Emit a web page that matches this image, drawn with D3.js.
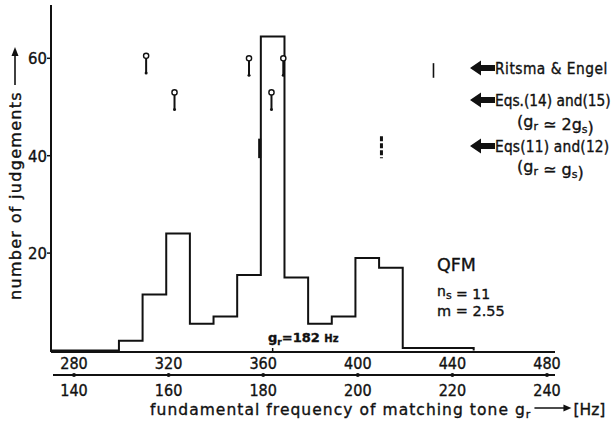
<!DOCTYPE html>
<html><head><meta charset="utf-8">
<script src="https://cdn.jsdelivr.net/npm/d3@7"></script>
<style>
body{margin:0;background:#fff}
svg{display:block}
text{font-family:"DejaVu Sans",sans-serif;fill:#111;stroke:#111;stroke-width:0.35px}
text.c{font-family:"DejaVu Sans Condensed","DejaVu Sans",sans-serif}
</style></head><body>
<svg id="c" width="614" height="423"></svg>
<script>
// ---- data ----
const binEdges = [299,309,319,329,339,349,359,369,379,389,399,409,419,449]; // upper scale (Hz)
const binCounts = [2,11.5,24,5.5,7,15.5,64.5,15,5.5,7,19,17,0.5];
const yTicks = [20,40,60];
const xTopTicks = [280,320,360,400,440,480];
const xBottomTicks = [140,160,180,200,220,240];
const circleMarkerX = [310.5,322.5,354,363.5,368.5];
const circleMarkerTop = [60.5,53,60,53,60];
const circleMarkerBottom = [57,49.5,56.5,49.5,56.5];
const barMarkerX = [358.5,410,432];
const barMarkerTop = [43.5,44,59];
const barMarkerBottom = [39.5,39.5,56];
const grValue = 182;
const legendLabels = ["Ritsma & Engel","Eqs.(14) and(15)","Eqs(11) and(12)"];

// ---- scales ----
const svg = d3.select("#c");
const xTop = d3.scaleLinear().domain([280,480]).range([74,547]);
const xBot = d3.scaleLinear().domain([140,240]).range([74,547]);
const y = d3.scaleLinear().domain([0,60]).range([350.5,58.3]);
const axisX0 = 51, axisX1 = 555;
const ink = "#111";

function arrowRight(x1,x2,yy){
  svg.append("line").attr("x1",x1).attr("x2",x2-5).attr("y1",yy).attr("y2",yy).attr("stroke",ink).attr("stroke-width",1.6);
  svg.append("path").attr("d",`M${x2},${yy} L${x2-8},${yy-3.5} L${x2-8},${yy+3.5} Z`).attr("fill",ink);
}

// y axis
svg.append("line").attr("x1",axisX0).attr("x2",axisX0).attr("y1",5).attr("y2",y(0)+1.5)
  .attr("stroke",ink).attr("stroke-width",2);
const yAx = svg.append("g");
yTicks.forEach(t=>{
  yAx.append("line").attr("x1",axisX0-4).attr("x2",axisX0).attr("y1",y(t)).attr("y2",y(t)).attr("stroke",ink).attr("stroke-width",1.5);
  yAx.append("text").attr("class","c").attr("x",axisX0-4).attr("y",y(t)).attr("dy","0.36em").attr("text-anchor","end")
    .attr("font-size",16.5).text(t);
});

// histogram
let p = d3.path();
p.moveTo(axisX0, y(0));
binEdges.forEach((e,i)=>{
  p.lineTo(xTop(e), i===0 ? y(0) : y(binCounts[i-1]));
  p.lineTo(xTop(e), i<binCounts.length ? y(binCounts[i]) : y(0));
});
svg.append("path").attr("d",p.toString()).attr("fill","none").attr("stroke",ink).attr("stroke-width",2);

// baseline axis (upper scale)
const base = y(0)+1.5;
svg.append("line").attr("x1",axisX0).attr("x2",axisX1).attr("y1",base).attr("y2",base).attr("stroke",ink).attr("stroke-width",1.8);
svg.append("line").attr("x1",xBot(grValue)).attr("x2",xBot(grValue)).attr("y1",base).attr("y2",base-4).attr("stroke",ink).attr("stroke-width",1.5);
xTopTicks.forEach(t=>{
  svg.append("text").attr("class","c").attr("x",xTop(t)).attr("y",363).attr("dy","0.36em").attr("text-anchor","middle").attr("font-size",16).text(t);
});
// lower axis
const lowY = 375;
svg.append("line").attr("x1",axisX0+2).attr("x2",axisX1).attr("y1",lowY).attr("y2",lowY).attr("stroke",ink).attr("stroke-width",1.8);
xBottomTicks.forEach(t=>{
  svg.append("circle").attr("cx",xBot(t)).attr("cy",lowY).attr("r",2).attr("fill",ink);
  svg.append("text").attr("class","c").attr("x",xBot(t)).attr("y",390).attr("dy","0.36em").attr("text-anchor","middle").attr("font-size",16).text(t);
});

// g_r label
const gl = svg.append("text").attr("x",268).attr("y",337).attr("dy","0.36em").attr("font-size",13).attr("font-weight","bold");
gl.append("tspan").text("g");
gl.append("tspan").attr("font-size",9).attr("dy",3).text("r");
gl.append("tspan").attr("dy",-3).text("=182 ");
gl.append("tspan").attr("font-size",10).text("Hz");

// circle markers
circleMarkerX.forEach((v,i)=>{
  const cx = xTop(v), cy = y(circleMarkerTop[i]), by = y(circleMarkerBottom[i]);
  svg.append("line").attr("x1",cx).attr("x2",cx).attr("y1",cy+2.6).attr("y2",by).attr("stroke",ink).attr("stroke-width",2);
  svg.append("circle").attr("cx",cx).attr("cy",cy).attr("r",2.6).attr("fill","#fff").attr("stroke",ink).attr("stroke-width",1.4);
  svg.append("circle").attr("cx",cx).attr("cy",by).attr("r",1.5).attr("fill",ink);
});
// bar markers
barMarkerX.forEach((v,i)=>{
  const cx = xTop(v);
  svg.append("line").attr("x1",cx).attr("x2",cx).attr("y1",y(barMarkerTop[i])).attr("y2",y(barMarkerBottom[i]))
    .attr("stroke",ink).attr("stroke-width",i===2?1.6:3)
    .attr("stroke-dasharray",i===1?"5,2":null);
});

// legend
const legRows = [68,100,146];
const legSpacing = [0.5,0,0.2];
legRows.forEach((ly,i)=>{
  const ax = 470;
  svg.append("path").attr("d",`M${ax},${ly} L${ax+11},${ly-7.5} L${ax+11},${ly-3} L${ax+25},${ly-3} L${ax+25},${ly+3} L${ax+11},${ly+3} L${ax+11},${ly+7.5} Z`).attr("fill",ink);
  svg.append("text").attr("class","c").attr("x",495).attr("y",ly).attr("dy","0.36em").attr("font-size",15.3)
    .attr("letter-spacing",legSpacing[i]).text(legendLabels[i]);
});
function subLine(x,yy,parts,fs){
  const t = svg.append("text").attr("x",x).attr("y",yy).attr("dy","0.36em").attr("font-size",fs||16);
  parts.forEach(([s,sub])=>{
    if(sub){ t.append("tspan").attr("font-size",11).attr("dy",3).text(s); t.append("tspan").attr("dy",-3).text(""); }
    else t.append("tspan").text(s);
  });
  return t;
}
subLine(517,121,[["(g"],["r",1],[" \u2243 2g"],["s",1],[")"]]);
subLine(517,166,[["(g"],["r",1],[" \u2243 g"],["s",1],[")"]]);

// QFM block
svg.append("text").attr("x",437).attr("y",265).attr("dy","0.36em").attr("font-size",17.5).text("QFM");
subLine(437,291,[["n"],["s",1],[" = 11"]],14);
svg.append("text").attr("x",437).attr("y",311).attr("dy","0.36em").attr("font-size",14.5).text("m = 2.55");

// axis titles
const yl = svg.append("text").attr("transform","translate(15,300) rotate(-90)").attr("dy","0.36em")
  .attr("font-size",16).attr("letter-spacing",1.3).text("number  of  judgements");
const ylLen = yl.node().getComputedTextLength();
svg.append("line").attr("x1",15).attr("x2",15).attr("y1",300-ylLen-6).attr("y2",300-ylLen-36).attr("stroke",ink).attr("stroke-width",1.6);
svg.append("path").attr("d",`M15,${300-ylLen-44} L${11.5},${300-ylLen-35} L${18.5},${300-ylLen-35} Z`).attr("fill",ink);

const xt = svg.append("text").attr("x",150).attr("y",409).attr("dy","0.36em").attr("font-size",15.5).attr("letter-spacing",1.05);
xt.append("tspan").text("fundamental  frequency  of  matching  tone g");
xt.append("tspan").attr("font-size",11).attr("dy",3).text("r");
const xtEnd = 150 + xt.node().getComputedTextLength();
arrowRight(xtEnd+3, xtEnd+40, 408);
svg.append("text").attr("x",xtEnd+42).attr("y",409).attr("dy","0.36em").attr("font-size",15.5).text("[Hz]");
</script></body></html>
